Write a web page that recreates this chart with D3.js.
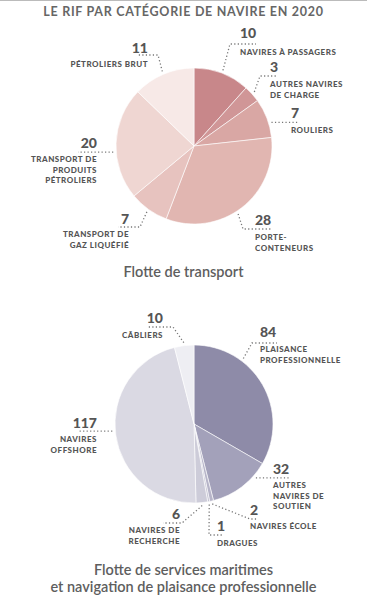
<head>
  <meta charset="utf-8">
  <script src="https://d3js.org/d3.v7.min.js"></script>
  <style>
    body { margin: 0; background: #fff; }
    .num { font-family: Lato, "Open Sans", sans-serif; font-weight: 900; font-size: 14px; fill: #555; }
    .lbl { font-family: Lato, "Open Sans", sans-serif; font-weight: 900; font-size: 8px; fill: #555; letter-spacing: 0.5px; }
    .ttl { font-family: Lato, "Open Sans", sans-serif; font-weight: 700; font-size: 12.5px; fill: #666; letter-spacing: 0.7px; }
    .sub { font-family: Lato, "Open Sans", sans-serif; font-weight: 600; font-size: 14.5px; fill: #5e5e5e; }
    .lead { fill: none; stroke: #777; stroke-width: 1.3; stroke-dasharray: 1.2 2.3; }
  </style>
</head>
<body>
<script>
// data
var transportNames = [["NAVIRES À PASSAGERS"], ["AUTRES NAVIRES", "DE CHARGE"], ["ROULIERS"],
  ["PORTE-", "CONTENEURS"], ["TRANSPORT DE", "GAZ LIQUÉFIÉ"],
  ["TRANSPORT DE", "PRODUITS", "PÉTROLIERS"], ["PÉTROLIERS BRUT"]];
var transportValues = [10, 3, 7, 28, 7, 20, 11];
var transportColors = ["#c8878a", "#d09697", "#d9a7a4", "#e1b6b1", "#e7c3bf", "#efd6d2", "#f7e9e7"];

var serviceNames = [["PLAISANCE", "PROFESSIONNELLE"], ["AUTRES", "NAVIRES DE", "SOUTIEN"],
  ["NAVIRES ÉCOLE"], ["DRAGUES"], ["NAVIRES DE", "RECHERCHE"], ["NAVIRES", "OFFSHORE"], ["CÂBLIERS"]];
var serviceValues = [84, 32, 2, 1, 6, 117, 10];
var serviceColors = ["#8e8ba8", "#a3a1ba", "#b6b4c8", "#c3c2d2", "#cdccd9", "#dad9e3", "#eeeef3"];

// label layout, relative to pie centre: leader angle (deg, null = mid), elbow, end, text anchor/pos
var transportLayout = [
  {a: null, el: [36, -102], en: [62, -102], an: "start", nx: 46, ny: -108, ly: -91},
  {a: null, el: [66, -70], en: [84, -70], an: "start", nx: 76, ny: -74, ly: -59},
  {a: 73, el: null, en: [104, -23], an: "start", nx: 97, ny: -28, ly: -13},
  {a: 147, el: [49, 83], en: [78, 83], an: "start", nx: 61, ny: 79, ly: 94},
  {a: null, el: [-54, 81], en: [-76, 81], an: "end", nx: -65, ny: 78, ly: 91},
  {a: 265.6, el: null, en: [-116, 6], an: "end", nx: -97, ny: 2, ly: 16},
  {a: null, el: [-36, -91], en: [-57, -91], an: "end", nx: -46, ny: -93, ly: -79}
];
var serviceLayout = [
  {a: 37, el: [58, -81], en: [83, -81], an: "start", nx: 66, ny: -87, ly: -72},
  {a: 131, el: null, en: [96, 53], an: "start", nx: 79, ny: 50, ly: 64},
  {a: null, el: [56, 95], en: [63, 95], an: "start", nx: 56, ny: 91, ly: 105},
  {a: null, el: [15, 111], en: [29, 111], an: "start", nx: 23, ny: 107, ly: 122},
  {a: null, el: [-12, 99], en: [-31, 99], an: "end", nx: -14, ny: 95, ly: 109},
  {a: 265, el: null, en: [-116, 7], an: "end", nx: -97, ny: 4, ly: 18},
  {a: null, el: [-21, -97], en: [-46, -97], an: "end", nx: -31, ny: -101, ly: -86}
];

var W = 367, H = 600;
var svg = d3.select("body").append("svg").attr("width", W).attr("height", H);

svg.append("line").attr("x1", 0).attr("x2", W).attr("y1", 0.5).attr("y2", 0.5)
  .attr("stroke", "#bbb").attr("stroke-width", 1);

svg.append("text").attr("class", "ttl").attr("x", W / 2).attr("y", 16)
  .attr("text-anchor", "middle").text("LE RIF PAR CATÉGORIE DE NAVIRE EN 2020");

function drawPie(cx, cy, r, values, names, colors, layout) {
  var g = svg.append("g").attr("transform", "translate(" + cx + "," + cy + ")");
  var pie = d3.pie().sort(null).value(function(d) { return d; });
  var arcs = pie(values);
  var arc = d3.arc().innerRadius(0).outerRadius(r);

  g.selectAll("path.slice")
    .data(arcs)
    .enter().append("path")
    .attr("class", "slice")
    .attr("d", arc)
    .attr("fill", function(d, i) { return colors[i]; })
    .attr("stroke", "#fff")
    .attr("stroke-width", 0.6);

  arcs.forEach(function(d, i) {
    var L = layout[i];
    var ang = L.a != null ? L.a * Math.PI / 180 : (d.startAngle + d.endAngle) / 2;
    var rr = r + 3;
    var p0 = [rr * Math.sin(ang), -rr * Math.cos(ang)];
    var pts = [p0];
    if (L.el) pts.push(L.el);
    pts.push(L.el ? L.en : [L.en[0], p0[1]]);
    g.append("path").attr("class", "lead").attr("d", d3.line()(pts));

    g.append("text").attr("class", "num")
      .attr("x", L.nx).attr("y", L.ny)
      .attr("text-anchor", L.an)
      .text(values[i]);

    names[i].forEach(function(line, k) {
      g.append("text").attr("class", "lbl")
        .attr("x", L.nx).attr("y", L.ly + k * 10.5)
        .attr("text-anchor", L.an)
        .text(line);
    });
  });
}

drawPie(194, 146, 78, transportValues, transportNames, transportColors, transportLayout);
drawPie(194, 424, 79, serviceValues, serviceNames, serviceColors, serviceLayout);

svg.append("text").attr("class", "sub").attr("x", W / 2).attr("y", 277)
  .attr("text-anchor", "middle").text("Flotte de transport");
svg.append("text").attr("class", "sub").attr("x", W / 2).attr("y", 575)
  .attr("text-anchor", "middle").text("Flotte de services maritimes");
svg.append("text").attr("class", "sub").attr("x", W / 2).attr("y", 592)
  .attr("text-anchor", "middle").text("et navigation de plaisance professionnelle");
</script>
</body>
